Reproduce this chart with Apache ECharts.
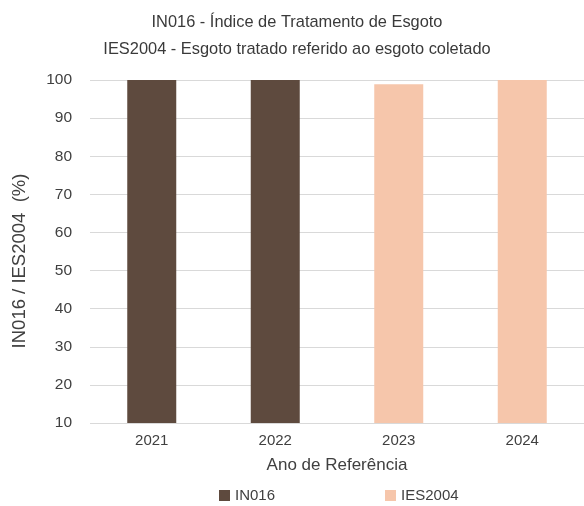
<!DOCTYPE html>
<html><head><meta charset="utf-8">
<script src="https://cdn.jsdelivr.net/npm/echarts@6/dist/echarts.min.js"></script>
<style>html,body{margin:0;padding:0;background:#fff}#c{width:584px;height:506px}</style>
</head><body><div id="c"></div>
<script>
const categories = ['2021','2022','2023','2024'];
const in016 = [100, 100, null, null];
const ies2004 = [null, null, 98.9, 100];
const yTicks = {min:10, max:100, interval:10};

const chart = echarts.init(document.getElementById('c'), null, {renderer:'canvas'});
chart.setOption({
  animation:false,
  backgroundColor:'#fff',
  title:{
    text:'IN016 - Índice de Tratamento de Esgoto\nIES2004 - Esgoto tratado referido ao esgoto coletado',
    left:292, top:4, textAlign:'center',
    textStyle:{fontFamily:'Liberation Sans, Arial, sans-serif', fontSize:16.4, fontWeight:'normal', color:'#3a3a3a', lineHeight:27}
  },
  legend:{
    bottom:-2, left:214, itemGap:110, itemWidth:11, itemHeight:11, icon:'rect',
    textStyle:{fontFamily:'Liberation Sans, Arial, sans-serif', fontSize:15, color:'#404040'},
    data:['IN016','IES2004']
  },
  graphic:[{
    type:'text', x:20, y:261, rotation:Math.PI/2,
    style:{text:'IN016 / IES2004  (%)', x:0, y:0, align:'center', verticalAlign:'middle',
      font:'18.5px "Liberation Sans", Arial, sans-serif', fill:'#404040'}
  }],
  grid:{left:90, right:-3, top:80, bottom:83},
  xAxis:{
    type:'category', data:categories,
    name:'Ano de Referência', nameLocation:'middle', nameGap:34,
    nameTextStyle:{fontFamily:'Liberation Sans, Arial, sans-serif', fontSize:17, color:'#404040'},
    axisLine:{show:false}, axisTick:{show:false},
    axisLabel:{fontFamily:'Liberation Sans, Arial, sans-serif', fontSize:15, color:'#404040', margin:10}
  },
  yAxis:{
    type:'value', min:yTicks.min, max:yTicks.max, interval:yTicks.interval,
    axisLine:{show:false}, axisTick:{show:false},
    axisLabel:{fontFamily:'Liberation Sans, Arial, sans-serif', fontSize:15.5, color:'#404040', margin:18},
    splitLine:{lineStyle:{color:'#d9d9d9', width:1}}
  },
  series:[
    {name:'IN016', type:'bar', data:in016, barWidth:49, barGap:'-100%', itemStyle:{color:'#5e4a3e'}},
    {name:'IES2004', type:'bar', data:ies2004, barWidth:49, itemStyle:{color:'#f6c6ab'}}
  ]
});
</script></body></html>
